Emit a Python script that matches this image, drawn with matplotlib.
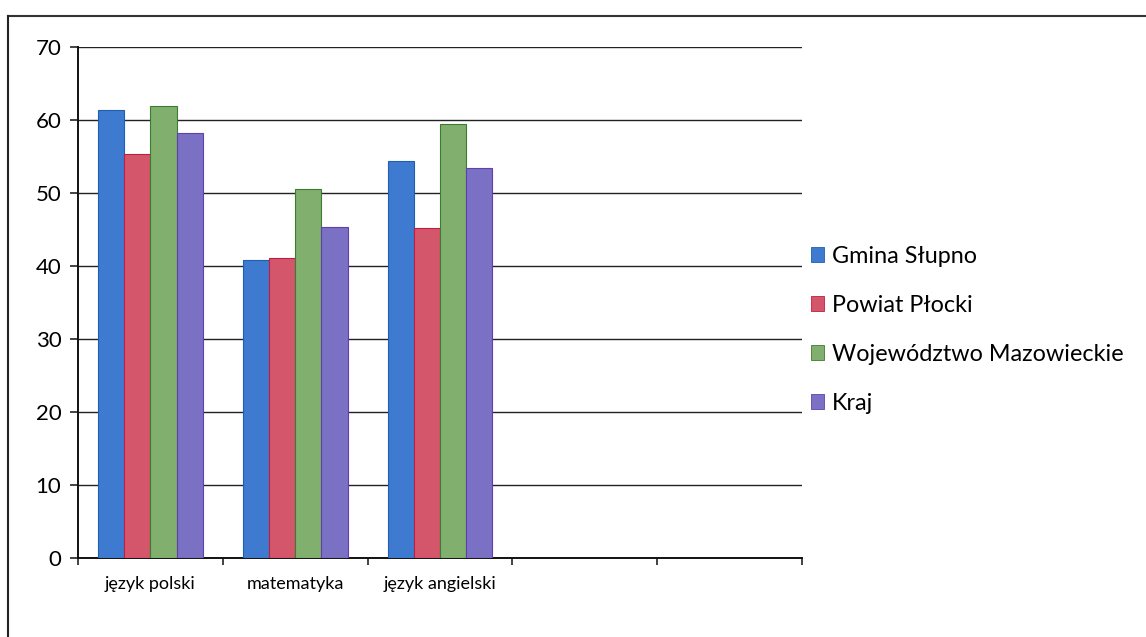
import matplotlib
matplotlib.use("Agg")
import matplotlib.pyplot as plt
from matplotlib.lines import Line2D
from matplotlib.patches import Patch
import numpy as np

plt.rcParams['font.family'] = ['Lato', 'DejaVu Sans']

categories = ['język polski', 'matematyka', 'język angielski', '', '']
series_names = ['Gmina Słupno', 'Powiat Płocki', 'Województwo Mazowieckie', 'Kraj']
gmina = [61.4, 40.9, 54.4]
powiat = [55.4, 41.1, 45.2]
wojewodztwo = [62.0, 50.6, 59.4]
kraj = [58.3, 45.4, 53.4]
y_ticks = [0, 10, 20, 30, 40, 50, 60, 70]

colors = ['#3D7AD0', '#D4566A', '#80AF6E', '#7A70C4']
edges = ['#1F5FB0', '#C01E40', '#3E7A30', '#6040B0']

fig = plt.figure(figsize=(11.46, 6.37), dpi=100)
ax = fig.add_axes([0.0681, 0.124, 0.6317, 0.802])

series = [gmina, powiat, wojewodztwo, kraj]
w = 0.181
x = np.arange(len(gmina))
for i, vals in enumerate(series):
    ax.bar(x + (i - 1.5) * w, vals, width=w, color=colors[i], edgecolor=edges[i],
           linewidth=0.8, zorder=3, label=series_names[i])

ax.set_xlim(-0.5, len(categories) - 0.5)
ax.set_ylim(0, 70)
ax.set_yticks(y_ticks)
ax.set_yticklabels([str(t) for t in y_ticks], fontsize=16)
ax.yaxis.grid(True, color='#222222', linewidth=1.0, zorder=0)
ax.set_axisbelow(True)

ax.set_xticks(np.arange(len(categories)))
ax.set_xticklabels(categories, fontsize=13)
ax.tick_params(axis='x', which='major', length=0, pad=13)
ax.set_xticks(np.arange(len(categories) + 1) - 0.5, minor=True)
ax.tick_params(axis='x', which='minor', direction='out', length=5, width=1.2, color='#222222')
ax.tick_params(axis='y', direction='out', length=6, width=1.2, color='#222222', pad=6)

for s in ['top', 'right']:
    ax.spines[s].set_visible(False)
for s in ['left', 'bottom']:
    ax.spines[s].set_color('#111111')
    ax.spines[s].set_linewidth(1.4)

handles = [Patch(facecolor=colors[i], edgecolor=edges[i], linewidth=0.6) for i in range(4)]
fig.legend(handles, series_names, loc='upper left', bbox_to_anchor=(0.689, 0.647),
           frameon=False, fontsize=16.8, handlelength=0.58, handleheight=0.58,
           handletextpad=0.35, labelspacing=1.2)

# outer chart border
fig.add_artist(Line2D([8 / 1146, 1.0], [1 - 16 / 637, 1 - 16 / 637],
                      transform=fig.transFigure, color='#333333', linewidth=1.5))
fig.add_artist(Line2D([8 / 1146, 8 / 1146], [0.0, 1 - 16 / 637],
                      transform=fig.transFigure, color='#222222', linewidth=1.5))

fig.savefig('out.png', dpi=100)
